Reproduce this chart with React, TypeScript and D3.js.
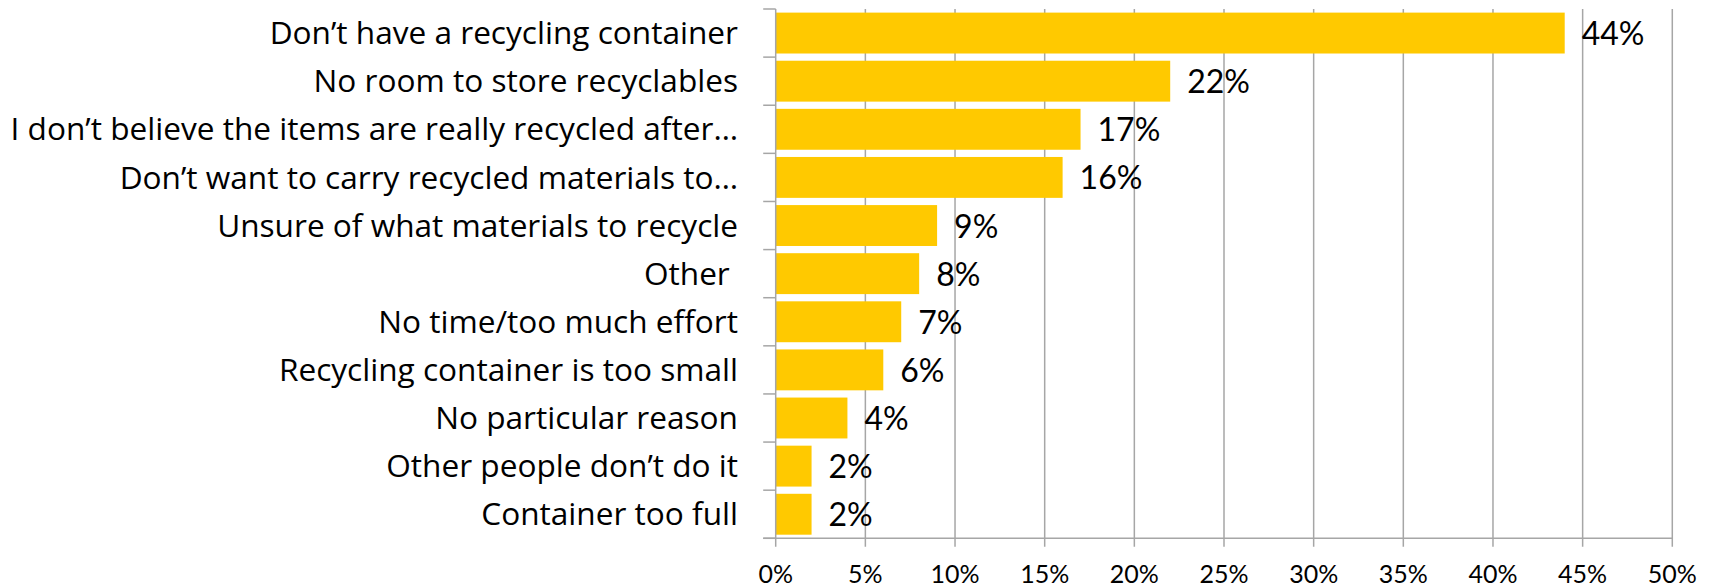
import React from "react";
import * as d3 from "d3";

const categories: string[] = [
  "Don\u2019t have a recycling container",
  "No room to store recyclables",
  "I don\u2019t believe the items are really recycled after\u2026",
  "Don\u2019t want to carry recycled materials to\u2026",
  "Unsure of what materials to recycle",
  "Other ",
  "No time/too much effort",
  "Recycling container is too small",
  "No particular reason",
  "Other people don\u2019t do it",
  "Container too full",
];
const values: number[] = [44, 22, 17, 16, 9, 8, 7, 6, 4, 2, 2];
const xTicks: number[] = [0, 5, 10, 15, 20, 25, 30, 35, 40, 45, 50];

const W = 1714;
const H = 586;
const FONT = "Lato, 'Open Sans', sans-serif";
const CAT_FONT = "'Open Sans', Lato, sans-serif";
const BAR = "#FFC900";
const GRID = "#A6A6A6";

export default function App() {
  const x = d3.scaleLinear().domain([0, 50]).range([775.7, 1672.3]);
  const y = d3
    .scaleBand<string>()
    .domain(categories)
    .range([9, 538.3])
    .paddingInner(0.15)
    .paddingOuter(0.075);
  const top = 9;
  const bottom = 538.3;
  const boundaries = d3.range(categories.length + 1).map((i) => top + i * ((bottom - top) / categories.length));

  return (
    <svg
      width={W}
      height={H}
      style={{ position: "absolute", left: 0, top: 0, background: "#fff" }}
      fontFamily={FONT}
    >
      {/* gridlines */}
      {xTicks.slice(1).map((t) => (
        <line key={"g" + t} x1={x(t)} x2={x(t)} y1={top} y2={bottom + 8.5} stroke={GRID} strokeWidth={1.5} />
      ))}
      {/* bars */}
      {categories.map((c, i) => (
        <rect key={"b" + i} x={x(0)} y={y(c)!} width={x(values[i]) - x(0)} height={y.bandwidth()} fill={BAR} />
      ))}
      {/* y axis */}
      <line x1={x(0)} x2={x(0)} y1={top} y2={bottom + 8.5} stroke={GRID} strokeWidth={1.5} />
      {boundaries.map((b, i) => (
        <line key={"yt" + i} x1={x(0) - 12.5} x2={x(0)} y1={b} y2={b} stroke={GRID} strokeWidth={1.5} />
      ))}
      {/* x axis */}
      <line x1={x(0) - 12.5} x2={x(50)} y1={bottom} y2={bottom} stroke={GRID} strokeWidth={1.5} />
      {xTicks.map((t) => (
        <text key={"xl" + t} x={x(t)} y={582.5} textAnchor="middle" fontSize={25} fill="#000">
          {t + "%"}
        </text>
      ))}
      {/* category labels */}
      {categories.map((c, i) => (
        <text
          key={"cl" + i}
          x={738}
          y={y(c)! + y.bandwidth() / 2 + 11.1}
          textAnchor="end"
          fontSize={31.6}
          fontFamily={CAT_FONT}
          fill="#000"
          xmlSpace="preserve"
        >
          {c}
        </text>
      ))}
      {/* value labels */}
      {categories.map((c, i) => (
        <text
          key={"vl" + i}
          x={x(values[i]) + 17}
          y={y(c)! + y.bandwidth() / 2 + 12}
          fontSize={32}
          fill="#000"
        >
          {values[i] + "%"}
        </text>
      ))}
    </svg>
  );
}
